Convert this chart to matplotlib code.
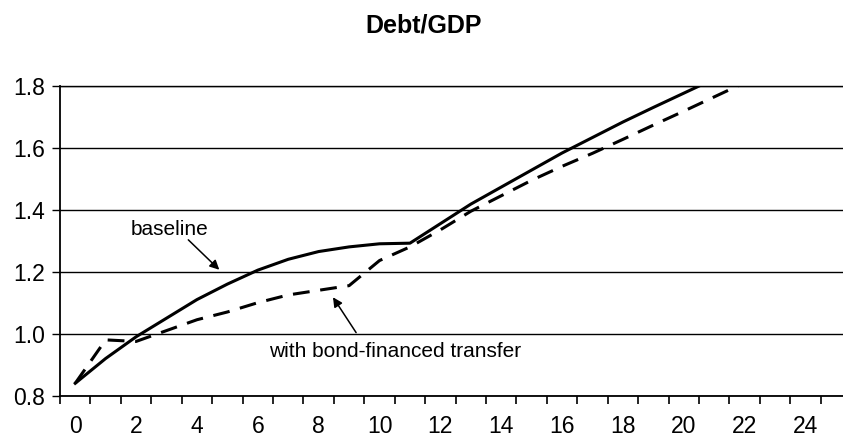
import numpy as np
import matplotlib.pyplot as plt
from matplotlib.ticker import MultipleLocator, FixedLocator

plt.rcParams['font.family'] = ['Liberation Sans', 'DejaVu Sans']

# years after the shock
years = list(range(0, 23))
# debt/GDP, baseline (solid)
baseline = [0.84, 0.92, 0.99, 1.05, 1.11, 1.16, 1.205, 1.24, 1.265, 1.28, 1.29, 1.292,
            1.355, 1.418, 1.473, 1.528, 1.583, 1.633, 1.683, 1.73, 1.776, 1.822, 1.865]
# debt/GDP with bond-financed transfer (dashed)
transfer = [0.84, 0.98, 0.975, 1.01, 1.045, 1.07, 1.10, 1.125, 1.14, 1.155, 1.236, 1.28,
            1.335, 1.395, 1.445, 1.495, 1.54, 1.582, 1.627, 1.673, 1.718, 1.764, 1.81]
xlabels = [str(v) for v in range(0, 25, 2)]

fig = plt.figure(figsize=(8.43, 4.42), dpi=100)
ax = fig.add_axes([0.0712, 0.1048, 0.9288, 0.7013])

ax.plot(years, baseline, color='black', lw=2.2, solid_joinstyle='round')
ax.plot(years, transfer, color='black', lw=2.2, dashes=(5.5, 3.5))

ax.set_xlim(-0.5, 25.23)
ax.set_ylim(0.8, 1.8)

# category style axis: labels at centres, tick marks at boundaries
ax.xaxis.set_major_locator(FixedLocator(range(0, 25, 2)))
ax.set_xticklabels(xlabels)
ax.xaxis.set_minor_locator(FixedLocator(np.arange(-0.5, 25, 1.0)))
ax.tick_params(axis='x', which='major', length=0, pad=14, labelsize=16.5)
ax.tick_params(axis='x', which='minor', length=6, width=1.2, direction='out')

ax.yaxis.set_major_locator(MultipleLocator(0.2))
ax.yaxis.set_major_formatter(plt.FormatStrFormatter('%.1f'))
ax.tick_params(axis='y', which='major', length=6, width=1.0, pad=5, labelsize=16.5)

ax.yaxis.grid(True, color='black', lw=1.0)
ax.spines['right'].set_visible(False)
ax.spines['top'].set_linewidth(1.0)
ax.spines['left'].set_linewidth(1.3)
ax.spines['bottom'].set_linewidth(1.3)

# annotations
ax.text(3.09, 1.335, 'baseline', fontsize=15, ha='center', va='center')
ax.annotate('', xy=(4.8, 1.2), xytext=(3.65, 1.309),
            arrowprops=dict(arrowstyle='-|>', color='black', lw=1.1, mutation_scale=14))
ax.text(6.38, 0.941, 'with bond-financed transfer', fontsize=15, ha='left', va='center')
ax.annotate('', xy=(8.42, 1.125), xytext=(9.28, 0.996),
            arrowprops=dict(arrowstyle='-|>', color='black', lw=1.1, mutation_scale=14))

fig.text(0.502, 0.943, 'Debt/GDP', fontsize=18, fontweight='bold', ha='center', va='center')

fig.savefig('out.png', dpi=100)
